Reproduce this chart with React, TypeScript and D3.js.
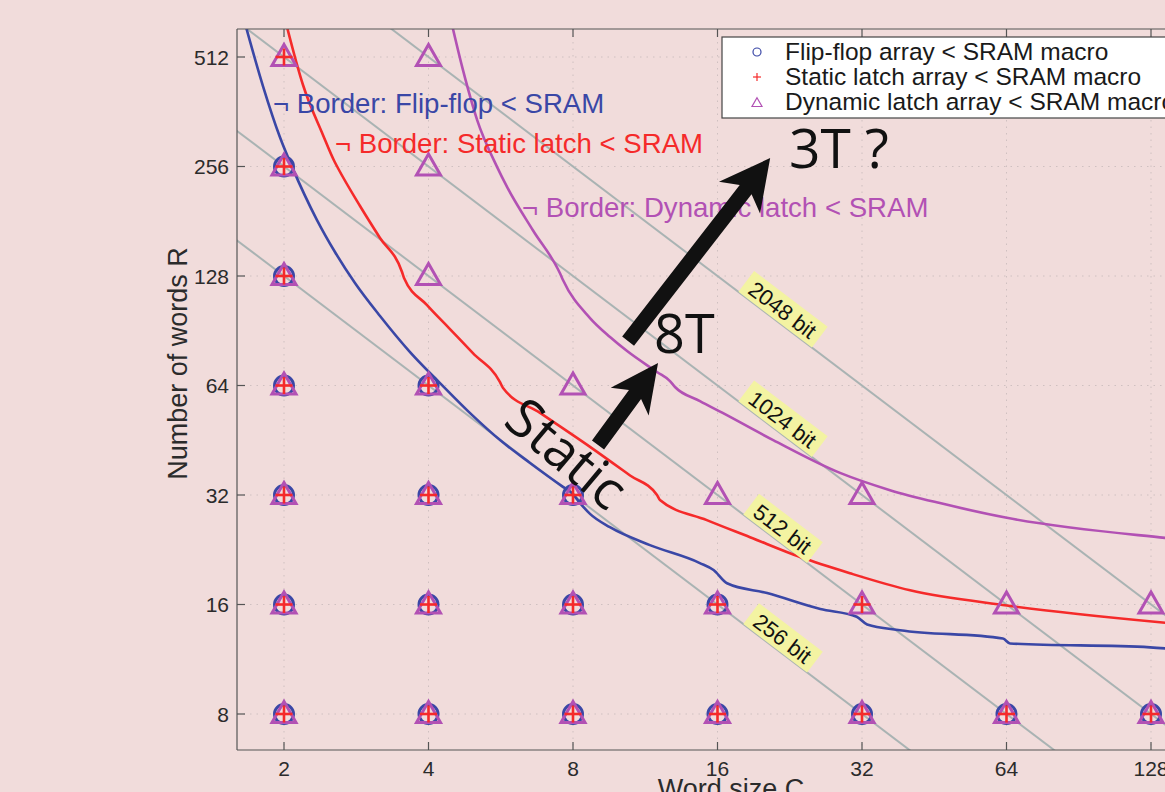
import React from 'react';
import * as d3 from 'd3';

// ---------- data ----------
const wordSizeTicks = [2, 4, 8, 16, 32, 64, 128];
const wordCountTicks = [8, 16, 32, 64, 128, 256, 512];
const isoBitLevels = [256, 512, 1024, 2048];
const isoBitLabels = ['256 bit', '512 bit', '1024 bit', '2048 bit'];

type P = [number, number];

const flipFlopPoints: P[] = [
  [2, 8], [2, 16], [2, 32], [2, 64], [2, 128], [2, 256],
  [4, 8], [4, 16], [4, 32], [4, 64],
  [8, 8], [8, 16], [8, 32],
  [16, 8], [16, 16],
  [32, 8], [64, 8], [128, 8],
];
const staticLatchPoints: P[] = [
  [2, 8], [2, 16], [2, 32], [2, 64], [2, 128], [2, 256], [2, 512],
  [4, 8], [4, 16], [4, 32], [4, 64],
  [8, 8], [8, 16], [8, 32],
  [16, 8], [16, 16],
  [32, 8], [32, 16],
  [64, 8], [128, 8],
];
const dynamicLatchPoints: P[] = [
  [2, 8], [2, 16], [2, 32], [2, 64], [2, 128], [2, 256], [2, 512],
  [4, 8], [4, 16], [4, 32], [4, 64], [4, 128], [4, 256], [4, 512],
  [8, 8], [8, 16], [8, 32], [8, 64],
  [16, 8], [16, 16], [16, 32],
  [32, 8], [32, 16], [32, 32],
  [64, 8], [64, 16],
  [128, 8], [128, 16],
];

const flipFlopBorder: P[] = [
  [1.65, 650], [1.81, 424], [1.96, 309], [2.08, 255], [2.343, 182.4], [2.554, 149.0],
  [2.811, 122.5], [3.17, 99.4], [3.661, 79.1], [4.227, 65.0], [4.952, 52.8],
  [5.637, 45.3], [6.509, 39.2], [7.626, 33.7], [7.962, 32.4], [8.275, 30.4],
  [8.68, 28.4], [9.55, 26.1], [11.57, 23.3],
  [14.7, 20.8], [15.7, 19.9], [16.75, 18.3], [20.3, 17.2], [26.2, 15.55],
  [31.2, 14.8], [32.8, 14.1], [38.4, 13.6], [62.9, 12.9], [65.1, 12.5],
  [127.4, 12.2], [150, 12.0],
];
const staticLatchBorder: P[] = [
  [2.01, 650], [2.191, 428.8], [2.411, 312.5], [2.545, 265], [2.59, 253.6],
  [2.88, 199.4], [3.17, 162.8], [3.523, 131.3], [3.557, 126.4],
  [3.972, 106.5], [4.434, 91.5], [4.95, 78.6], [5.637, 65.4], [5.72, 63.0],
  [6.83, 53.8], [8.68, 43.4], [10.52, 36.2], [11.97, 32.0], [12.14, 31.0],
  [15.2, 27.3], [18.7, 24.5], [23.8, 21.6], [30.2, 19.5], [40.3, 17.5],
  [64.1, 15.9], [133.6, 14.3], [150, 14.1],
];
const dynamicLatchBorder: P[] = [
  [4.45, 650], [4.72, 471], [5.05, 344], [5.56, 255], [5.83, 225], [6.6, 171],
  [7.52, 130], [7.62, 125], [8.68, 98.1], [9.555, 87.0], [10.37, 79.6], [11.97, 69.7],
  [12.74, 65.8], [13.05, 63.4], [14.71, 58.0], [16.4, 53.8], [20.9, 45.3], [28.8, 36.8],
  [36.6, 33.0], [46.5, 30.4], [64.1, 27.7], [136.9, 24.4], [150, 24.1],
];

// arrows (start -> tip, in C/R data space)
const arrowStatic: P[] = [[9.02, 43.9], [12.03, 73.8]];
const arrow8T: P[] = [[10.42, 84.8], [20.6, 270]];

const legendLabels = [
  'Flip-flop array < SRAM macro',
  'Static latch array < SRAM macro',
  'Dynamic latch array < SRAM macro',
];
const borderLabels = [
  '¬ Border: Flip-flop < SRAM',
  '¬ Border: Static latch < SRAM',
  '¬ Border: Dynamic latch < SRAM',
];

// ---------- styles ----------
const W = 1165, H = 792;
const plotLeft = 237, plotTop = 29, plotBottom = 750, plotRight = 1400;
const BG = '#f1dcdb';
const BLUE = '#3a47a6';
const RED = '#f52a2a';
const PURPLE = '#b251b4';
const GRAY = '#a9b3b3';
const SANS = '"Liberation Sans", Arial, Helvetica, sans-serif';
const BIG = '"Open Sans", "Liberation Sans", sans-serif';

function Arrow({ from, to, shaft, headLen, headW, back }: { from: P; to: P; shaft: number; headLen: number; headW: number; back: number }) {
  const dx = to[0] - from[0], dy = to[1] - from[1];
  const len = Math.hypot(dx, dy);
  const ux = dx / len, uy = dy / len;
  const nx = -uy, ny = ux;
  const bx = to[0] - ux * (headLen - back), by = to[1] - uy * (headLen - back);
  const hx = to[0] - ux * headLen, hy = to[1] - uy * headLen;
  const pts: P[] = [
    [from[0] + nx * shaft / 2, from[1] + ny * shaft / 2],
    [bx + nx * shaft / 2, by + ny * shaft / 2],
    [hx + nx * headW / 2, hy + ny * headW / 2],
    [to[0], to[1]],
    [hx - nx * headW / 2, hy - ny * headW / 2],
    [bx - nx * shaft / 2, by - ny * shaft / 2],
    [from[0] - nx * shaft / 2, from[1] - ny * shaft / 2],
  ];
  return <polygon points={pts.map(p => p.join(',')).join(' ')} fill="#111" />;
}

export default function App() {
  const x = d3.scaleLog().base(2).domain([2, 128]).range([284, 1151]);
  const y = d3.scaleLog().base(2).domain([8, 512]).range([714, 57]);

  const line = d3.line<P>().x(d => x(d[0])).y(d => y(d[1])).curve(d3.curveMonotoneX);
  const straight = d3.line<P>().x(d => x(d[0])).y(d => y(d[1]));

  const octX = x(4) - x(2);
  const octY = y(8) - y(16);
  const angle = (Math.atan2(octY, octX) * 180) / Math.PI;

  const tri = (s: number) => `M0,${-s * 1.05} L${s},${s * 0.7} L${-s},${s * 0.7} Z`;

  const labelFs = 22;
  const labelWidth = (t: string) => {
    let w = 0;
    for (const ch of t) w += ch === ' ' ? 0.278 : ch === 'b' ? 0.556 : ch === 'i' ? 0.222 : ch === 't' ? 0.278 : 0.556;
    return w * labelFs + 14;
  };

  const a1: P[] = arrowStatic.map(d => [x(d[0]), y(d[1])] as P);
  const a2: P[] = arrow8T.map(d => [x(d[0]), y(d[1])] as P);

  return (
    <svg width={W} height={H} style={{ position: 'absolute', left: 0, top: 0, display: 'block' }}>
      <defs>
        <clipPath id="plot">
          <rect x={plotLeft} y={plotTop} width={plotRight - plotLeft} height={plotBottom - plotTop} />
        </clipPath>
      </defs>
      <rect x={0} y={0} width={W} height={H} fill={BG} />

      {/* grid */}
      <g stroke="#cfc0c0" strokeWidth={1} strokeDasharray="1.5,5">
        {wordSizeTicks.map(t => (
          <line key={'gx' + t} x1={x(t)} x2={x(t)} y1={plotTop} y2={plotBottom} />
        ))}
        {wordCountTicks.map(t => (
          <line key={'gy' + t} x1={plotLeft} x2={plotRight} y1={y(t)} y2={y(t)} />
        ))}
      </g>

      {/* iso-bit lines */}
      <g clipPath="url(#plot)">
        {isoBitLevels.map(n => (
          <path key={'iso' + n} d={straight([[1.2, n / 1.2], [300, n / 300]]) || ''} stroke={GRAY} strokeWidth={2} fill="none" />
        ))}
      </g>

      {/* border curves */}
      <g clipPath="url(#plot)" fill="none" strokeWidth={2.6} strokeLinejoin="round">
        <path d={line(flipFlopBorder) || ''} stroke={BLUE} />
        <path d={line(staticLatchBorder) || ''} stroke={RED} />
        <path d={line(dynamicLatchBorder) || ''} stroke={PURPLE} />
      </g>

      {/* iso-bit labels */}
      {isoBitLevels.map((n, i) => {
        const c = 21.1;
        const w = labelWidth(isoBitLabels[i]);
        return (
          <g key={'lab' + n} transform={`translate(${x(c)},${y(n / c)}) rotate(${angle}) translate(0,-13)`}>
            <rect x={-w / 2} y={-13} width={w} height={26} fill="#f3f3a2" />
            <text x={0} y={1} textAnchor="middle" dominantBaseline="central" fontFamily={SANS} fontSize={labelFs} fill="#111">
              {isoBitLabels[i]}
            </text>
          </g>
        );
      })}

      {/* markers */}
      <g>
        {flipFlopPoints.map((d, i) => (
          <circle key={'c' + i} cx={x(d[0])} cy={y(d[1])} r={9.5} fill="none" stroke={BLUE} strokeWidth={3} />
        ))}
        {dynamicLatchPoints.map((d, i) => (
          <path key={'t' + i} d={tri(12)} transform={`translate(${x(d[0])},${y(d[1])})`} fill="none" stroke={PURPLE} strokeWidth={3} strokeLinejoin="miter" />
        ))}
        {staticLatchPoints.map((d, i) => (
          <g key={'p' + i} transform={`translate(${x(d[0])},${y(d[1])})`} stroke={RED} strokeWidth={2.6}>
            <line x1={-8.5} x2={8.5} y1={0} y2={0} />
            <line x1={0} x2={0} y1={-8.5} y2={8.5} />
          </g>
        ))}
      </g>

      {/* axes */}
      <g stroke="#555" strokeWidth={1.2} fill="none">
        <line x1={plotLeft} x2={plotLeft} y1={plotTop} y2={plotBottom} />
        <line x1={plotLeft} x2={plotRight} y1={plotBottom} y2={plotBottom} />
        <line x1={plotLeft} x2={plotRight} y1={plotTop} y2={plotTop} />
        {wordSizeTicks.map(t => (
          <g key={'tx' + t}>
            <line x1={x(t)} x2={x(t)} y1={plotBottom} y2={plotBottom - 8} />
            <line x1={x(t)} x2={x(t)} y1={plotTop} y2={plotTop + 8} />
          </g>
        ))}
        {wordCountTicks.map(t => (
          <line key={'ty' + t} x1={plotLeft} x2={plotLeft + 8} y1={y(t)} y2={y(t)} />
        ))}
      </g>
      <g fontFamily={SANS} fontSize={21} fill="#2b2b2b">
        {wordSizeTicks.map(t => (
          <text key={'lx' + t} x={x(t)} y={776} textAnchor="middle">{t}</text>
        ))}
        {wordCountTicks.map(t => (
          <text key={'ly' + t} x={229} y={y(t) + 7.5} textAnchor="end">{t}</text>
        ))}
      </g>
      <text x={0} y={0} transform={`translate(187,${(plotTop + plotBottom) / 2 - 26}) rotate(-90)`} textAnchor="middle" fontFamily={SANS} fontSize={27} fill="#2b2b2b">
        Number of words R
      </text>
      <text x={731} y={798} textAnchor="middle" fontFamily={SANS} fontSize={27} fill="#2b2b2b">Word size C</text>

      {/* border labels */}
      <g fontFamily={SANS} fontSize={27.6}>
        <text x={273} y={113} fill={BLUE}>{borderLabels[0]}</text>
        <text x={335} y={153} fill={RED}>{borderLabels[1]}</text>
        <text x={522} y={217} fill={PURPLE}>{borderLabels[2]}</text>
      </g>

      {/* annotations */}
      <Arrow from={a1[0]} to={a1[1]} shaft={15} headLen={48} headW={47} back={9} />
      <Arrow from={a2[0]} to={a2[1]} shaft={15} headLen={50} headW={52} back={10} />
      <text x={789} y={168} fontFamily={BIG} fontSize={55} fill="#111" style={{ whiteSpace: 'pre' }}>{'3T ?'}</text>
      <text x={654} y={353} fontFamily={BIG} fontSize={54} fill="#111">8T</text>
      <text x={0} y={0} transform="translate(568,452) rotate(40)" textAnchor="middle" dominantBaseline="central" fontFamily={BIG} fontSize={54} fill="#111">Static</text>

      {/* legend */}
      <g>
        <rect x={722} y={37} width={600} height={81} fill="#fff" stroke="#444" strokeWidth={1.2} />
        {legendLabels.map((t, i) => {
          const cy = 52 + i * 25;
          return (
            <g key={'lg' + i}>
              {i === 0 && <circle cx={757} cy={cy} r={4} fill="none" stroke={BLUE} strokeWidth={1.2} />}
              {i === 1 && (
                <g stroke={RED} strokeWidth={1.2}>
                  <line x1={753} x2={761} y1={cy} y2={cy} />
                  <line x1={757} x2={757} y1={cy - 4} y2={cy + 4} />
                </g>
              )}
              {i === 2 && <path d={tri(5)} transform={`translate(757,${cy + 1})`} fill="none" stroke={PURPLE} strokeWidth={1.2} />}
              <text x={785} y={cy + 8} fontFamily={SANS} fontSize={24.5} fill="#1a1a1a">{t}</text>
            </g>
          );
        })}
      </g>
    </svg>
  );
}
